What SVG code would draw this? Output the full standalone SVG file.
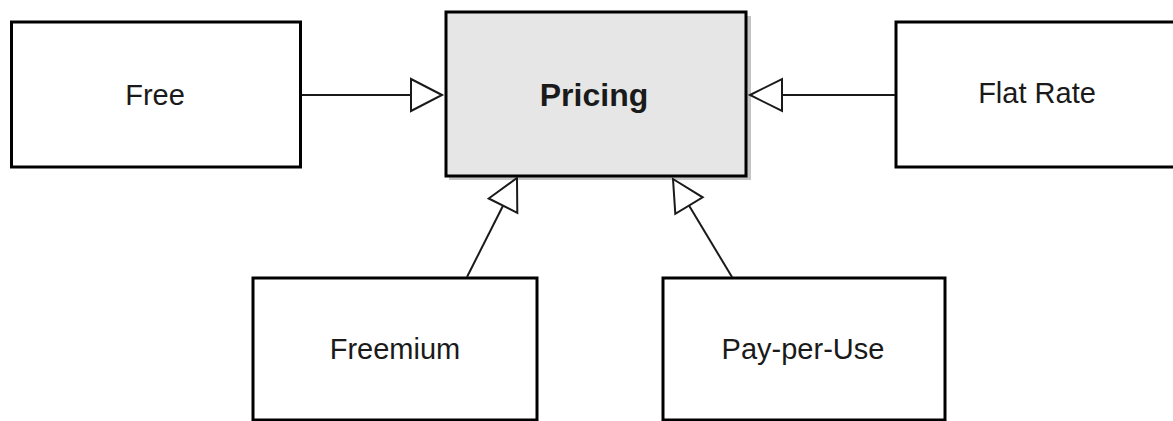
<svg xmlns="http://www.w3.org/2000/svg" width="1173" height="421" viewBox="0 0 1173 421">
  <style>
    .box { fill: #ffffff; stroke: #000000; stroke-width: 3; }
    .main { fill: #e6e6e6; stroke: #000000; stroke-width: 3; }
    .shadow { fill: #c4c4c4; }
    .label { font-family: "Liberation Sans", Arial, sans-serif; font-size: 29px; fill: #1a1a1a; text-anchor: middle; }
    .title { font-family: "Liberation Sans", Arial, sans-serif; font-size: 32px; font-weight: bold; fill: #1a1a1a; text-anchor: middle; }
    .edge { stroke: #1a1a1a; stroke-width: 2; fill: none; }
    .head { fill: #ffffff; stroke: #1a1a1a; stroke-width: 2; stroke-linejoin: miter; }
  </style>
  <rect width="1173" height="421" fill="#ffffff"/>

  <g id="node-pricing">
    <rect class="shadow" x="449" y="16" width="302" height="164"/>
    <rect class="main" x="446" y="12" width="300" height="164"/>
    <text class="title" x="594" y="106">Pricing</text>
  </g>

  <g id="node-free">
    <rect class="box" x="11.5" y="22" width="289" height="145"/>
    <text class="label" x="155" y="105">Free</text>
  </g>

  <g id="node-flat-rate">
    <rect class="box" x="896" y="22" width="282" height="145"/>
    <text class="label" x="1037" y="103">Flat Rate</text>
  </g>

  <g id="node-freemium">
    <rect class="box" x="253" y="278" width="284" height="142"/>
    <text class="label" x="395" y="359">Freemium</text>
  </g>

  <g id="node-pay-per-use">
    <rect class="box" x="663" y="278" width="282" height="142"/>
    <text class="label" x="803" y="359">Pay-per-Use</text>
  </g>

  <g id="connectors">
    <!-- Free -> Pricing -->
    <line class="edge" x1="302" y1="95" x2="411" y2="95"/>
    <polygon class="head" points="442,95 411,79 411,111"/>
    <!-- Flat Rate -> Pricing -->
    <line class="edge" x1="895" y1="95" x2="782" y2="95"/>
    <polygon class="head" points="750,95 782,79 782,111"/>
    <!-- Freemium -> Pricing -->
    <line class="edge" x1="467" y1="277" x2="503" y2="205.7"/>
    <polygon class="head" points="517,178 517.3,212.9 488.7,198.5"/>
    <!-- Pay-per-Use -> Pricing -->
    <line class="edge" x1="732" y1="277" x2="689" y2="205.6"/>
    <polygon class="head" points="673,179 702.7,197.3 675.3,213.9"/>
  </g>
</svg>
